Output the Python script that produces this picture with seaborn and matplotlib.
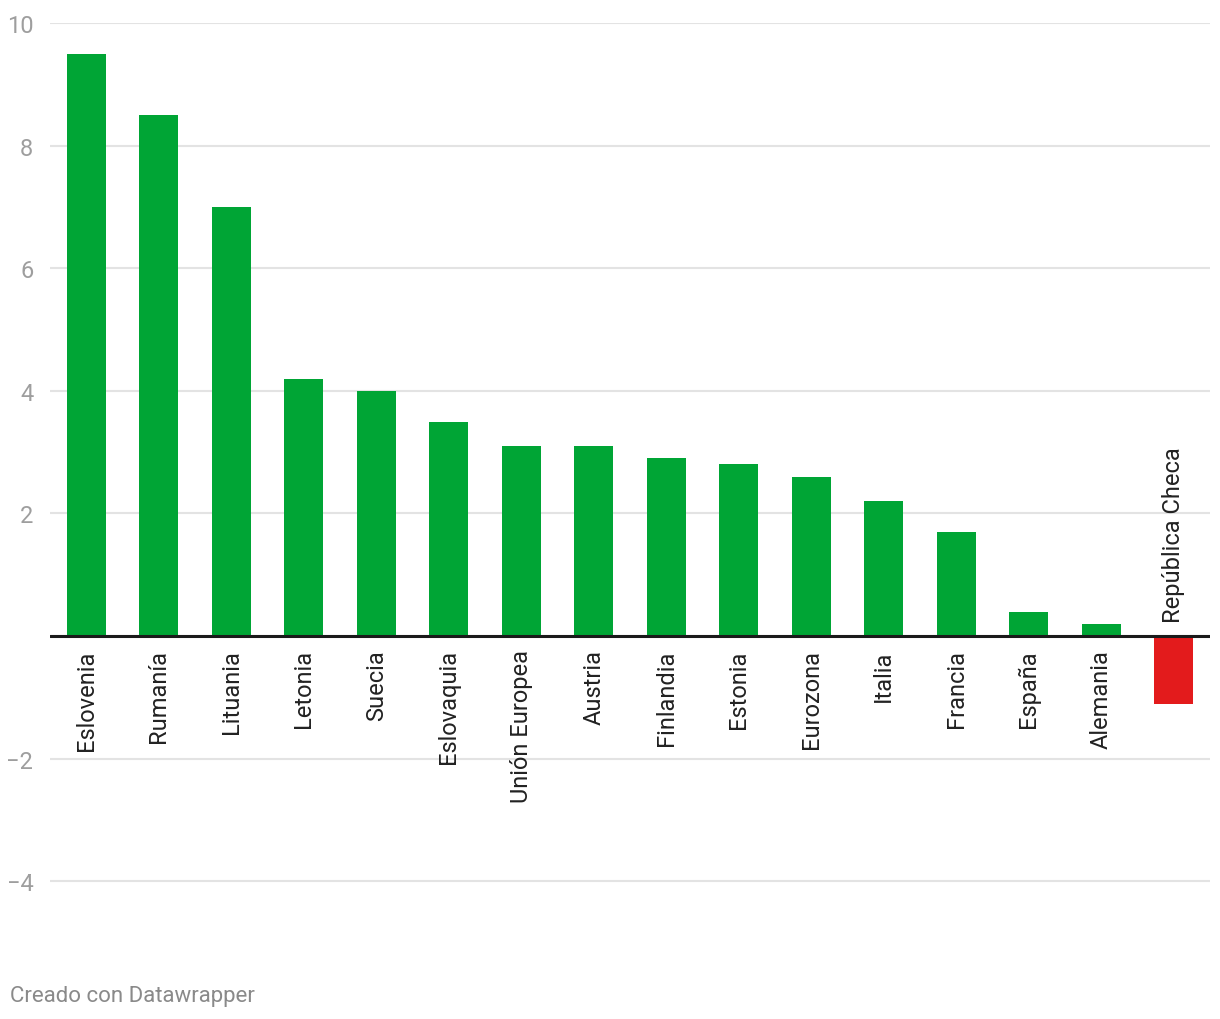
import numpy as np
import pandas as pd
import matplotlib
matplotlib.use("Agg")
import matplotlib.pyplot as plt
import seaborn as sns

countries = ["Eslovenia", "Rumanía", "Lituania", "Letonia", "Suecia", "Eslovaquia",
             "Unión Europea", "Austria", "Finlandia", "Estonia", "Eurozona", "Italia",
             "Francia", "España", "Alemania", "República Checa"]
values = [9.5, 8.5, 7.0, 4.2, 4.0, 3.5, 3.1, 3.1, 2.9, 2.8, 2.6, 2.2, 1.7, 0.4, 0.2, -1.1]
y_ticks = [-4, -2, 0, 2, 4, 6, 8, 10]

GREEN = "#00a535"
RED = "#e31b1c"

sns.set_theme(style="white")
plt.rcParams["font.family"] = ["Roboto", "DejaVu Sans"]

df = pd.DataFrame({"pais": countries, "valor": values})
df["signo"] = np.where(df["valor"] >= 0, "pos", "neg")

fig = plt.figure(figsize=(12.2, 10.2), dpi=100)
ax = fig.add_axes([50 / 1220, 1 - 940 / 1020, 1160 / 1220, 916 / 1020])

sns.barplot(data=df, x="pais", y="valor", hue="signo", palette={"pos": GREEN, "neg": RED},
            dodge=False, width=0.54, legend=False, ax=ax, saturation=1, linewidth=0)

ax.set_xlim(-0.5, len(countries) - 0.5)
ax.set_ylim(-4.94, 10)
ax.set_yticks(y_ticks)
ax.set_yticklabels(["\u22124", "\u22122", "", "2", "4", "6", "8", "10"])
ax.yaxis.grid(True, color="#e3e3e3", linewidth=1.5)
ax.set_axisbelow(True)
ax.tick_params(axis="y", length=0, pad=12, labelsize=17, labelcolor="#9e9e9e")
ax.set_xticks([])
ax.set_xlabel("")
ax.set_ylabel("")
for s in ax.spines.values():
    s.set_visible(False)
ax.axhline(0, color="#1a1a1a", linewidth=2.2, zorder=3)

# bar labels rotated, placed on the opposite side of the zero line
for i, (name, v) in enumerate(zip(countries, values)):
    if v >= 0:
        ax.annotate(name, (i, 0), xytext=(0, -9.5), textcoords="offset points",
                    rotation=90, ha="center", va="top", fontsize=17, color="#222222")
    else:
        ax.annotate(name, (i, 0), xytext=(0, 10.5), textcoords="offset points",
                    rotation=90, ha="center", va="bottom", fontsize=17, color="#222222")

fig.text(10 / 1220, 1 - 997 / 1020, "Creado con Datawrapper", fontsize=16,
         color="#8a8a8a", ha="left", va="center")

fig.savefig("out.png", dpi=100)
